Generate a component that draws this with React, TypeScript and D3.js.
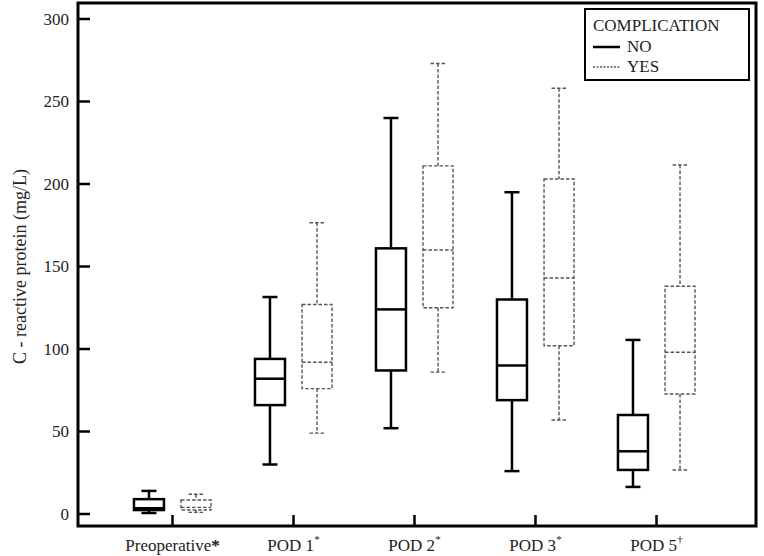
import * as d3 from "d3";
import * as React from "react";

// five-number summaries (mg/L)
const categories = ["Preoperative", "POD 1", "POD 2", "POD 3", "POD 5"];
const marks = ["*", "*", "*", "*", "\u2020"];
const groups = ["NO", "YES"];

// [lowWhisker, q1, median, q3, highWhisker]
const noStats: number[][] = [
  [0.6, 2.4, 3.5, 9, 14],
  [30, 66, 82, 94, 131.5],
  [52, 87, 124, 161, 240],
  [26, 69, 90, 130, 195],
  [16.4, 26.7, 38, 60, 105.5],
];
const yesStats: number[][] = [
  [1, 2.4, 4, 8.5, 12],
  [49, 76, 92, 127, 176.5],
  [86, 125, 160, 211, 273],
  [57, 102, 143, 203, 258],
  [26.7, 72.7, 98, 138, 211.5],
];
const yTicks = [0, 50, 100, 150, 200, 250, 300];

const W = 764;
const H = 556;
const frame = { left: 78, right: 756, top: 3, bottom: 526 };

export default function App() {
  const x = d3.scaleBand<string>().domain(categories).range([112, 717]);
  const sub = d3.scaleBand<string>().domain(groups).range([-40, 40]).paddingInner(0.3);
  const y = d3.scaleLinear().domain([0, 300]).range([514, 19]);

  const boxW = 30;
  const capW = 15;
  const txt = { fontFamily: "Liberation Serif" };

  const drawBox = (s: number[], cx: number, yes: boolean, key: string) => {
    const stroke = yes ? "#555" : "#000";
    const sw = yes ? 1.4 : 2.5;
    const dash = yes ? "3.5,2" : undefined;
    const [lo, q1, med, q3, hi] = s;
    return (
      <g key={key} stroke={stroke} strokeWidth={sw} strokeDasharray={dash} fill="none">
        <line x1={cx} x2={cx} y1={y(hi)} y2={y(q3)} />
        <line x1={cx} x2={cx} y1={y(q1)} y2={y(lo)} />
        <line x1={cx - capW / 2} x2={cx + capW / 2} y1={y(hi)} y2={y(hi)} />
        <line x1={cx - capW / 2} x2={cx + capW / 2} y1={y(lo)} y2={y(lo)} />
        <rect x={cx - boxW / 2} y={y(q3)} width={boxW} height={y(q1) - y(q3)} />
        <line x1={cx - boxW / 2} x2={cx + boxW / 2} y1={y(med)} y2={y(med)} />
      </g>
    );
  };

  return (
    <svg width={W} height={H} style={{ position: "absolute", left: 0, top: 0 }}>
      <rect width={W} height={H} fill="#fff" />
      {/* frame */}
      <rect
        x={frame.left}
        y={frame.top}
        width={frame.right - frame.left}
        height={frame.bottom - frame.top}
        fill="none"
        stroke="#000"
        strokeWidth={3}
      />
      {/* y axis */}
      {yTicks.map((t) => (
        <g key={"yt" + t}>
          <line x1={frame.left} x2={frame.left + 12} y1={y(t)} y2={y(t)} stroke="#000" strokeWidth={2.5} />
          <text x={frame.left - 9} y={y(t)} dy="0.35em" textAnchor="end" fontSize={17} fill="#222" style={txt}>
            {t}
          </text>
        </g>
      ))}
      <text
        transform={`translate(20,${(y(0) + y(300)) / 2}) rotate(-90)`}
        textAnchor="middle"
        dy="0.35em"
        fontSize={18}
        fill="#222"
        style={txt}
      >
        C - reactive protein (mg/L)
      </text>
      {/* x axis */}
      {categories.map((c, i) => {
        const cx = x(c)! + x.bandwidth() / 2;
        return (
          <g key={"xt" + c}>
            <line x1={cx} x2={cx} y1={frame.bottom} y2={frame.bottom - 11} stroke="#000" strokeWidth={2.5} />
            {i === 0 ? (
              <text x={cx} y={551} textAnchor="middle" fontSize={17} fill="#222" style={txt}>
                {c}
                <tspan fontWeight="bold">{marks[i]}</tspan>
              </text>
            ) : (
              <text x={cx} y={551} textAnchor="middle" fontSize={17} fill="#222" style={txt}>
                {c}
                <tspan fontSize={11} dy={-8}>
                  {marks[i]}
                </tspan>
              </text>
            )}
          </g>
        );
      })}
      {/* boxes */}
      {categories.map((c, i) => {
        const cx = x(c)! + x.bandwidth() / 2;
        const cNo = cx + sub("NO")! + sub.bandwidth() / 2;
        const cYes = cx + sub("YES")! + sub.bandwidth() / 2;
        return (
          <g key={"b" + c}>
            {drawBox(noStats[i], cNo, false, "no" + i)}
            {drawBox(yesStats[i], cYes, true, "yes" + i)}
          </g>
        );
      })}
      {/* legend */}
      <g>
        <rect x={585} y={9} width={164} height={71} fill="#fff" stroke="#000" strokeWidth={2} />
        <text x={593} y={31} fontSize={17} fill="#222" style={txt}>
          COMPLICATION
        </text>
        <line x1={593} x2={620} y1={47} y2={47} stroke="#000" strokeWidth={2.5} />
        <text x={627} y={52} fontSize={17} fill="#222" style={txt}>
          NO
        </text>
        <line x1={593} x2={620} y1={67} y2={67} stroke="#555" strokeWidth={1.3} strokeDasharray="2,1.5" />
        <text x={627} y={72} fontSize={17} fill="#222" style={txt}>
          YES
        </text>
      </g>
    </svg>
  );
}
